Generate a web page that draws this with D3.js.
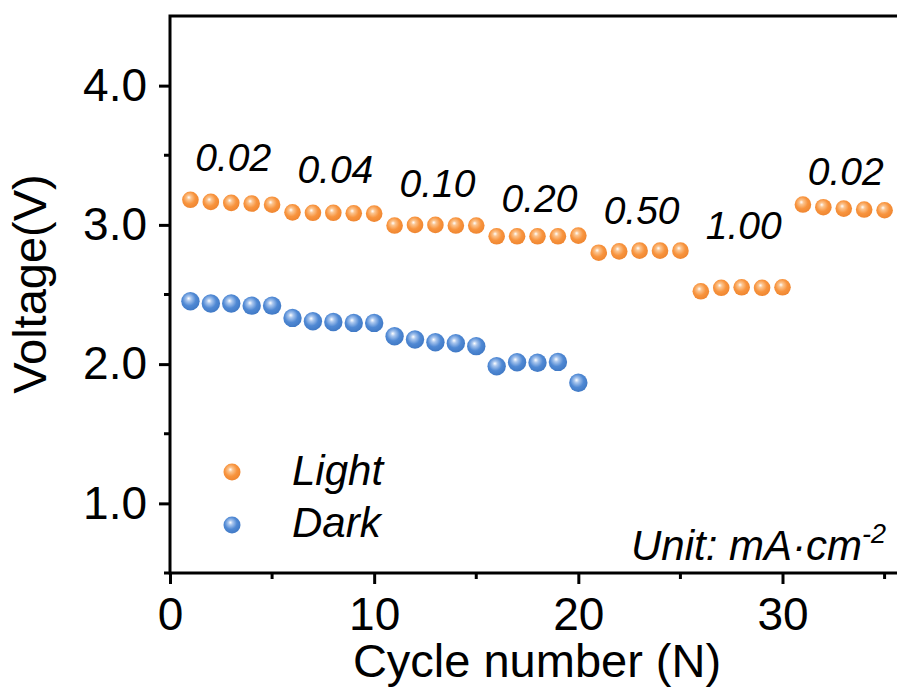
<!DOCTYPE html>
<html>
<head>
<meta charset="utf-8">
<script src="https://cdn.jsdelivr.net/npm/d3@7"></script>
<style>
  body { margin: 0; background: #fff; }
  svg { display: block; font-family: "Liberation Sans", Arial, sans-serif; }
</style>
</head>
<body>
<svg width="897" height="693"></svg>
<script>
// Data
const lightCycles = [1,2,3,4,5,6,7,8,9,10,11,12,13,14,15,16,17,18,19,20,21,22,23,24,25,26,27,28,29,30,31,32,33,34,35];
const lightV = [3.18,3.165,3.158,3.153,3.145, 3.09,3.087,3.087,3.083,3.081,
                2.995,3.0,3.0,2.995,2.995, 2.918,2.918,2.918,2.918,2.923,
                2.80,2.81,2.815,2.815,2.815, 2.523,2.548,2.552,2.548,2.552,
                3.146,3.127,3.117,3.11,3.105];
const darkCycles = [1,2,3,4,5,6,7,8,9,10,11,12,13,14,15,16,17,18,19,20];
const darkV = [2.452,2.435,2.435,2.42,2.42, 2.332,2.308,2.303,2.296,2.296,
               2.20,2.177,2.157,2.15,2.129, 1.985,2.014,2.01,2.016,1.866];

// current density labels
const rates = ["0.02","0.04","0.10","0.20","0.50","1.00","0.02"];
const rateCycle = [3, 8, 13, 18, 23, 28, 33];
const rateV = [3.39, 3.30, 3.203, 3.09, 3.006, 2.90, 3.289];

const xMajor = [0, 10, 20, 30];
const xMinor = [5, 15, 25, 35];
const yMajor = [1.0, 2.0, 3.0, 4.0];
const yMinor = [0.5, 1.5, 2.5, 3.5];

const svg = d3.select("svg");

const x = d3.scaleLinear().domain([0, 36]).range([170, 905]);
const y = d3.scaleLinear().domain([0.5, 4.5]).range([573, 16]);

// sphere gradients
const defs = svg.append("defs");
function sphere(id, light, base, dark) {
    const g = defs.append("radialGradient").attr("id", id)
        .attr("cx", "45%").attr("cy", "42%").attr("r", "60%")
        .attr("fx", "40%").attr("fy", "35%");
    g.append("stop").attr("offset", "0%").attr("stop-color", "#ffffff");
    g.append("stop").attr("offset", "22%").attr("stop-color", light);
    g.append("stop").attr("offset", "60%").attr("stop-color", base);
    g.append("stop").attr("offset", "100%").attr("stop-color", dark);
}
sphere("gOrange", "#fbc48f", "#f8943e", "#ee8530");
sphere("gBlue", "#a9c6ee", "#5089d4", "#3f78c4");

// axes
const tickFont = "46px";
const xAxis = d3.axisBottom(x).tickValues(xMajor).tickSize(11).tickSizeOuter(0).tickPadding(13);
const gx = svg.append("g").attr("transform", `translate(0,${y.range()[0]})`).call(xAxis);
gx.select(".domain").remove();
gx.selectAll("text").style("font-size", tickFont).attr("fill", "#000");

const yAxis = d3.axisLeft(y).tickValues(yMajor).tickFormat(d3.format(".1f"))
    .tickSize(11).tickSizeOuter(0).tickPadding(12);
const gy = svg.append("g").attr("transform", `translate(${x.range()[0]},0)`).call(yAxis);
gy.select(".domain").remove();
gy.selectAll("text").style("font-size", tickFont).attr("fill", "#000");

svg.selectAll(".tick line").attr("stroke", "#000").attr("stroke-width", 3);

// minor ticks
svg.append("g").selectAll("line").data(xMinor).join("line")
    .attr("x1", d => x(d)).attr("x2", d => x(d))
    .attr("y1", y.range()[0]).attr("y2", y.range()[0] + 6)
    .attr("stroke", "#000").attr("stroke-width", 3);
svg.append("g").selectAll("line").data(yMinor).join("line")
    .attr("x1", x.range()[0] - 6).attr("x2", x.range()[0])
    .attr("y1", d => y(d)).attr("y2", d => y(d))
    .attr("stroke", "#000").attr("stroke-width", 3);

// frame
svg.append("rect")
    .attr("x", x.range()[0]).attr("y", y.range()[1])
    .attr("width", x.range()[1] - x.range()[0])
    .attr("height", y.range()[0] - y.range()[1])
    .attr("fill", "none").attr("stroke", "#000").attr("stroke-width", 3);

// points
svg.append("g").selectAll("circle").data(darkCycles).join("circle")
    .attr("cx", d => x(d)).attr("cy", (d, i) => y(darkV[i]))
    .attr("r", 9.2).attr("fill", "url(#gBlue)");
svg.append("g").selectAll("circle").data(lightCycles).join("circle")
    .attr("cx", d => x(d)).attr("cy", (d, i) => y(lightV[i]))
    .attr("r", 8.3).attr("fill", "url(#gOrange)");

// rate labels
svg.append("g").selectAll("text").data(rates).join("text")
    .attr("x", (d, i) => x(rateCycle[i]) + 2)
    .attr("y", (d, i) => y(rateV[i]))
    .attr("text-anchor", "middle")
    .style("font-size", "39px").style("font-style", "italic")
    .text(d => d);

// legend
const legend = svg.append("g");
legend.append("circle").attr("cx", 232).attr("cy", 472).attr("r", 8.5).attr("fill", "url(#gOrange)");
legend.append("circle").attr("cx", 232).attr("cy", 525).attr("r", 8.5).attr("fill", "url(#gBlue)");
legend.append("text").attr("x", 292).attr("y", 485)
    .style("font-size", "42px").style("font-style", "italic").text("Light");
legend.append("text").attr("x", 292).attr("y", 537)
    .style("font-size", "42px").style("font-style", "italic").text("Dark");

// unit note
const unit = svg.append("text").attr("x", 886).attr("y", 560).attr("text-anchor", "end")
    .style("font-size", "42px").style("font-style", "italic");
unit.append("tspan").text("Unit: mA\u00b7cm");
unit.append("tspan").attr("dy", -17).style("font-size", "27px").text("-2");

// axis titles
svg.append("text")
    .attr("x", 537).attr("y", 677)
    .attr("text-anchor", "middle")
    .style("font-size", "47px")
    .text("Cycle number (N)");

svg.append("text")
    .attr("transform", "translate(46,284) rotate(-90)")
    .attr("text-anchor", "middle")
    .style("font-size", "47px")
    .text("Voltage(V)");
</script>
</body>
</html>
